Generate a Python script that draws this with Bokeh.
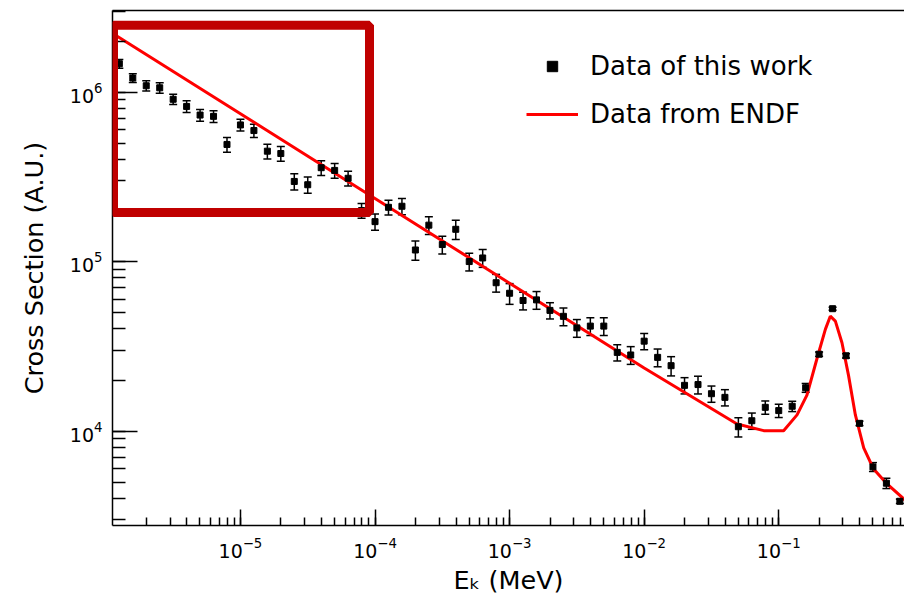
from bokeh.plotting import figure
from bokeh.models import (ColumnDataSource, Whisker, TeeHead, Legend, LegendItem,
                          BoxAnnotation, LogAxis, FixedTicker)
from bokeh.embed import file_html
from bokeh.resources import INLINE

# ---- measured data (this work) ----
energy_mev = [
    1.259e-6, 1.585e-6, 1.995e-6, 2.512e-6, 3.162e-6, 3.981e-6, 5.012e-6, 6.310e-6, 7.943e-6, 1.000e-5,
    1.259e-5, 1.585e-5, 1.995e-5, 2.512e-5, 3.162e-5, 3.981e-5, 5.012e-5, 6.310e-5, 7.943e-5, 1.000e-4,
    1.259e-4, 1.585e-4, 1.995e-4, 2.512e-4, 3.162e-4, 3.981e-4, 5.012e-4, 6.310e-4, 7.943e-4, 1.000e-3,
    1.259e-3, 1.585e-3, 1.995e-3, 2.512e-3, 3.162e-3, 3.981e-3, 5.012e-3, 6.310e-3, 7.943e-3, 1.000e-2,
    1.259e-2, 1.585e-2, 1.995e-2, 2.512e-2, 3.162e-2, 3.981e-2, 5.012e-2, 6.310e-2, 7.943e-2, 1.000e-1,
    1.259e-1, 1.585e-1, 1.995e-1, 2.512e-1, 3.162e-1, 3.981e-1, 5.012e-1, 6.310e-1, 7.943e-1,
]
cross_section = [
    1.47e6, 1.21e6, 1.09e6, 1.06e6, 9.07e5, 8.23e5, 7.32e5, 7.19e5, 4.91e5, 6.40e5,
    5.93e5, 4.48e5, 4.34e5, 2.97e5, 2.84e5, 3.58e5, 3.45e5, 3.10e5, 2.00e5, 1.72e5,
    2.09e5, 2.12e5, 1.17e5, 1.64e5, 1.26e5, 1.55e5, 1.00e5, 1.05e5, 7.50e4, 6.50e4,
    5.89e4, 5.94e4, 5.15e4, 4.75e4, 4.06e4, 4.16e4, 4.16e4, 2.91e4, 2.81e4, 3.39e4,
    2.72e4, 2.43e4, 1.86e4, 1.88e4, 1.66e4, 1.58e4, 1.06e4, 1.15e4, 1.38e4, 1.32e4,
    1.40e4, 1.80e4, 2.84e4, 5.27e4, 2.78e4, 1.11e4, 6.14e3, 4.92e3, 3.85e3,
]
rel_error = [
    0.06, 0.06, 0.07, 0.07, 0.07, 0.08, 0.08, 0.08, 0.10, 0.08,
    0.09, 0.10, 0.10, 0.11, 0.11, 0.10, 0.10, 0.10, 0.10, 0.11,
    0.10, 0.11, 0.13, 0.12, 0.12, 0.13, 0.12, 0.12, 0.12, 0.14,
    0.12, 0.12, 0.11, 0.12, 0.12, 0.12, 0.12, 0.11, 0.12, 0.11,
    0.12, 0.13, 0.11, 0.12, 0.11, 0.11, 0.13, 0.11, 0.09, 0.09, 0.07,
    0.06, 0.03, 0.02, 0.03, 0.03, 0.06, 0.07, 0.03,
]

# ---- ENDF evaluated curve ----
endf_energy = [1.0e-6, 1.0e-5, 1.0e-4, 1.0e-3, 1.0e-2, 0.049, 0.0773, 0.1087, 0.1368, 0.162,
               0.192, 0.222, 0.2416, 0.2635, 0.295, 0.330, 0.371, 0.428, 0.507, 0.638, 0.848, 1.0]
endf_xs = [2.355e6, 7.45e5, 2.355e5, 7.45e4, 2.355e4, 1.10e4, 1.005e4, 1.005e4, 1.245e4, 1.63e4,
           2.66e4, 3.98e4, 4.76e4, 4.45e4, 3.32e4, 2.13e4, 1.245e4, 7.96e3, 5.96e3, 4.87e3, 3.98e3, 3.54e3]

# ---- highlighted region (red frame) ----
box_e_range = [1.14e-6, 9.1e-5]
box_xs_range = [1.95e5, 2.48e6]

FONT = "DejaVu Sans"

upper = [v * (1 + e) for v, e in zip(cross_section, rel_error)]
lower = [v * (1 - e) for v, e in zip(cross_section, rel_error)]
src = ColumnDataSource(dict(x=energy_mev, y=cross_section, upper=upper, lower=lower))

p = figure(width=904, height=597, x_axis_type="log", y_axis_type="log",
           x_range=(1.12e-6, 0.86), y_range=(2.77e3, 3.03e6),
           output_backend="svg", toolbar_location=None,
           min_border_left=112, min_border_right=0, min_border_top=10, min_border_bottom=65)
p.grid.visible = False
p.outline_line_color = None
p.background_fill_color = "white"
p.border_fill_color = "white"

for ax in (p.xaxis[0], p.yaxis[0]):
    ax.axis_line_color = "black"
    ax.axis_line_width = 1.5
    ax.major_tick_line_color = "black"
    ax.minor_tick_line_color = "black"
    ax.major_tick_line_width = 1.5
    ax.minor_tick_line_width = 1.5
    ax.major_tick_out = 0
    ax.minor_tick_out = 0
    ax.major_label_text_font = FONT
    ax.major_label_text_font_size = "19px"
    ax.major_label_text_color = "black"
    ax.axis_label_text_font = FONT
    ax.axis_label_text_font_size = "25.5px"
    ax.axis_label_text_font_style = "normal"
    ax.axis_label_text_color = "black"

p.xaxis.major_tick_in = 16
p.xaxis.minor_tick_in = 8
p.yaxis.major_tick_in = 25
p.yaxis.minor_tick_in = 13
p.xaxis.major_label_standoff = 11
p.yaxis.major_label_standoff = 10
p.xaxis.axis_label = "E\u2096 (MeV)"
p.yaxis.axis_label = "Cross Section (A.U.)"
p.xaxis.axis_label_standoff = 4
p.yaxis.axis_label_standoff = 18

top = LogAxis(ticker=FixedTicker(ticks=[], minor_ticks=[]), axis_line_color="black",
              axis_line_width=1.5, major_tick_in=0, major_tick_out=0,
              minor_tick_in=0, minor_tick_out=0, major_label_text_font_size="0px")
p.add_layout(top, "above")

line_r = p.line(endf_energy, endf_xs, line_color="#ff0000", line_width=3)

whisk = Whisker(source=src, base="x", upper="upper", lower="lower", dimension="height",
                line_color="black", line_width=1.5,
                upper_head=TeeHead(size=8, line_color="black", line_width=1.5),
                lower_head=TeeHead(size=8, line_color="black", line_width=1.5))
p.add_layout(whisk)
pts_r = p.scatter("x", "y", source=src, marker="square", size=6,
                  fill_color="black", line_color="black")

box = BoxAnnotation(left=box_e_range[0], right=box_e_range[1],
                    bottom=box_xs_range[0], top=box_xs_range[1],
                    fill_alpha=0, line_color="#c00000", line_width=9, line_alpha=1)
p.add_layout(box)

legend = Legend(items=[LegendItem(label="Data of this work", renderers=[pts_r]),
                       LegendItem(label="Data from ENDF", renderers=[line_r])],
                location=(414, 396), glyph_width=52, glyph_height=26, label_height=26,
                spacing=18, padding=0, margin=0, label_standoff=12,
                border_line_color=None, background_fill_alpha=0,
                label_text_font=FONT, label_text_font_size="26px", label_text_color="black")
p.add_layout(legend)

open("out.html", "w").write(file_html(p, INLINE))
